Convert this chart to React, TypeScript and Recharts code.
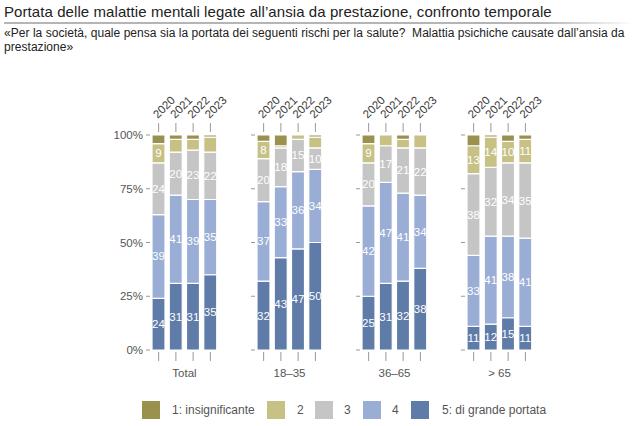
import React from "react";
import { BarChart, Bar, XAxis, YAxis, LabelList } from "recharts";

const groups = ["Total", "18–35", "36–65", "> 65"];
const years = ["2020", "2021", "2022", "2023"];
// values per group (rows) and year (columns), in %
const level5 = [[24, 31, 31, 35], [32, 43, 47, 50], [25, 31, 32, 38], [11, 12, 15, 11]];
const level4 = [[39, 41, 39, 35], [37, 33, 36, 34], [42, 47, 41, 34], [33, 41, 38, 41]];
const level3 = [[24, 20, 23, 22], [20, 18, 15, 10], [20, 17, 21, 22], [38, 32, 34, 35]];
const level2 = [[9, 6, 5, 7], [8, 1, 2, 5], [9, 5, 4, 6], [13, 14, 10, 11]];
const level1 = [[4, 2, 2, 1], [3, 5, 0, 1], [4, 0, 2, 0], [5, 1, 3, 2]];
const yTicks = [0, 25, 50, 75, 100];
const legendLabels = ["1: insignificante", "2", "3", "4", "5: di grande portata"];

const FONT = "'Liberation Sans', Arial, sans-serif";

const series = [
  { key: "l5", color: "#5f7ba8", values: level5 },
  { key: "l4", color: "#9aaed5", values: level4 },
  { key: "l3", color: "#c5c5c5", values: level3 },
  { key: "l2", color: "#c8c186", values: level2 },
  { key: "l1", color: "#9b914f", values: level1 },
];
const legendOrder = [4, 3, 2, 1, 0];

const buildData = (g: number) =>
  years.map((year, i) => {
    const row: any = { year };
    series.forEach((s) => (row[s.key] = s.values[g][i]));
    return row;
  });

const TopTick = (props: any) => {
  const { x, y, payload } = props;
  const ty = y - 16;
  return (
    <g>
      <line x1={x} x2={x} y1={y - 12} y2={y - 3} stroke="#999" strokeWidth={1} />
      <text
        x={x - 1}
        y={ty}
        transform={`rotate(-45 ${x - 1} ${ty})`}
        fontSize={11.5}
        fill="#3a3a3a"
        fontFamily={FONT}
      >
        {payload.value}
      </text>
    </g>
  );
};

const BottomTick = (props: any) => {
  const { x, y } = props;
  return <line x1={x} x2={x} y1={y + 2} y2={y + 11} stroke="#999" strokeWidth={1} />;
};

const EmptyTick = () => <g />;

const renderLabel = (props: any) => {
  const { x, y, width, height, value } = props;
  if (value == null || value < 8) return null;
  return (
    <text
      x={x + width / 2}
      y={y + height / 2}
      textAnchor="middle"
      dominantBaseline="central"
      fill="#fff"
      fontSize={11.5}
      fontFamily={FONT}
    >
      {value}
    </text>
  );
};

const PLOT_TOP = 135;
const CHART_TOP = 60;
const PLOT_H = 215;
const PLOT_W = 69;
const BOTTOM_H = 30;

const Panel = ({ g }: { g: number }) => {
  const leftW = g === 0 ? 50 : 8;
  const rightW = 8;
  const plotLeft = 149.8 + g * 105;
  const width = leftW + PLOT_W + rightW;
  const height = PLOT_TOP - CHART_TOP + PLOT_H + BOTTOM_H;
  return (
    <div style={{ position: "absolute", left: plotLeft - leftW, top: CHART_TOP }}>
      <BarChart
        width={width}
        height={height}
        data={buildData(g)}
        margin={{ top: 0, right: 0, bottom: 0, left: 0 }}
        style={{ overflow: "visible" }}
      >
        <XAxis
          xAxisId="top"
          orientation="top"
          dataKey="year"
          height={PLOT_TOP - CHART_TOP}
          axisLine={false}
          tickLine={false}
          tickSize={0}
          tickMargin={0}
          interval={0}
          tick={<TopTick />}
        />
        <XAxis
          xAxisId="bottom"
          orientation="bottom"
          dataKey="year"
          height={BOTTOM_H}
          axisLine={false}
          tickLine={false}
          tickSize={0}
          tickMargin={0}
          interval={0}
          tick={<BottomTick />}
          label={{
            value: groups[g],
            position: "insideBottom",
            offset: 3,
            fill: "#555",
            fontSize: 11.5,
            fontFamily: FONT,
          }}
        />
        <YAxis
          yAxisId="left"
          orientation="left"
          width={leftW}
          domain={[0, 100]}
          ticks={yTicks}
          axisLine={false}
          tickSize={4}
          tickMargin={3}
          tickLine={{ stroke: "#999" }}
          tick={g === 0 ? { fill: "#555", fontSize: 11.5, fontFamily: FONT } : <EmptyTick />}
          tickFormatter={(v: number) => `${v}%`}
        />
        <YAxis
          yAxisId="right"
          orientation="right"
          width={rightW}
          domain={[0, 100]}
          ticks={yTicks}
          axisLine={false}
          tickSize={4}
          tickLine={{ stroke: "#999" }}
          tick={<EmptyTick />}
        />
        {series.map((s) => (
          <Bar
            key={s.key}
            dataKey={s.key}
            stackId="a"
            xAxisId="bottom"
            yAxisId="left"
            fill={s.color}
            stroke="#fff"
            strokeWidth={1.2}
            barSize={13}
            isAnimationActive={false}
          >
            <LabelList dataKey={s.key} content={renderLabel} />
          </Bar>
        ))}
      </BarChart>
    </div>
  );
};

const legendSquareX = [142, 267, 315, 363, 411];
const legendTextX = [172, 297, 344, 392, 442];

export default function App() {
  return (
    <div
      style={{
        position: "absolute",
        left: 0,
        top: 0,
        width: 635,
        height: 426,
        background: "#fff",
        fontFamily: FONT,
        overflow: "hidden",
      }}
    >
      <style>{".recharts-surface, .recharts-wrapper svg { overflow: visible; }"}</style>
      <div
        style={{
          position: "absolute",
          left: 4,
          top: 2,
          fontSize: 15,
          color: "#222",
          whiteSpace: "nowrap",
          lineHeight: "19px",
          letterSpacing: "0.08px",
        }}
      >
        Portata delle malattie mentali legate all’ansia da prestazione, confronto temporale
      </div>
      <div
        style={{
          position: "absolute",
          left: 4,
          top: 22,
          width: 631,
          height: 2,
          background: "linear-gradient(to right, #b5b5b5 0%, #b5b5b5 85%, rgba(181,181,181,0) 100%)",
        }}
      />
      <div
        style={{
          position: "absolute",
          left: 4,
          top: 26,
          fontSize: 12,
          color: "#222",
          whiteSpace: "nowrap",
          lineHeight: "14px",
          letterSpacing: "0.04px",
        }}
      >
        «Per la società, quale pensa sia la portata dei seguenti rischi per la salute?&nbsp; Malattia psichiche causate dall’ansia da
        <br />
        prestazione»
      </div>
      {groups.map((_, g) => (
        <Panel key={g} g={g} />
      ))}
      {legendOrder.map((si, i) => (
        <React.Fragment key={i}>
          <div
            style={{
              position: "absolute",
              left: legendSquareX[i],
              top: 401,
              width: 18,
              height: 18,
              background: series[si].color,
            }}
          />
          <div
            style={{
              position: "absolute",
              left: legendTextX[i],
              top: 403,
              fontSize: 12,
              lineHeight: "14px",
              color: "#555",
              whiteSpace: "nowrap",
            }}
          >
            {legendLabels[i]}
          </div>
        </React.Fragment>
      ))}
    </div>
  );
}
